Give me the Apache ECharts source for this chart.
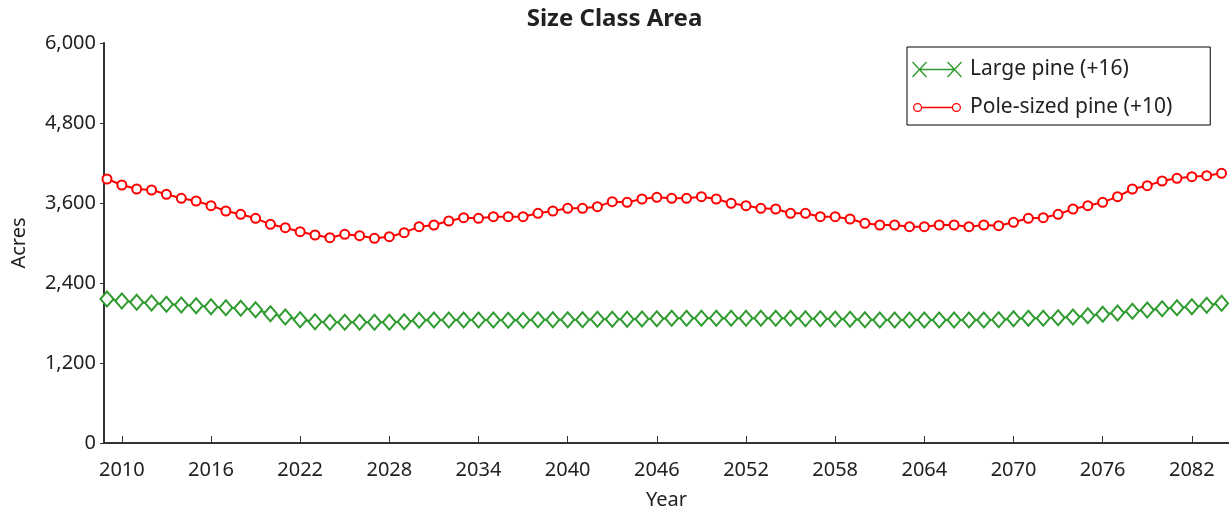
<!DOCTYPE html>
<html>
<head>
<meta charset="utf-8">
<title>Size Class Area</title>
<script src="https://cdn.jsdelivr.net/npm/echarts@6/dist/echarts.min.js"></script>
<style>
  html, body { margin: 0; padding: 0; background: #fff; }
  #main { width: 1229px; height: 516px; }
</style>
</head>
<body>
<div id="main"></div>
<script>
// years 2009..2084, one point per year
var years = [];
for (var y = 2009; y <= 2084; y++) years.push(y);

var yearTicks = [2010, 2016, 2022, 2028, 2034, 2040, 2046, 2052, 2058, 2064, 2070, 2076, 2082];
var acreTicks = [0, 1200, 2400, 3600, 4800, 6000];

var largePine = [
  2160, 2130, 2110, 2100, 2080, 2070, 2060, 2045, 2030, 2020,
  2000, 1940, 1890, 1850, 1820, 1810, 1810, 1810, 1810, 1810,
  1820, 1840, 1845, 1845, 1845, 1845, 1845, 1840, 1840, 1850,
  1850, 1850, 1850, 1855, 1855, 1855, 1860, 1865, 1870, 1870,
  1870, 1870, 1870, 1870, 1870, 1870, 1870, 1865, 1865, 1860,
  1855, 1850, 1845, 1845, 1845, 1845, 1845, 1845, 1845, 1845,
  1850, 1865, 1870, 1870, 1880, 1890, 1910, 1930, 1950, 1975,
  1995, 2015, 2030, 2045, 2065, 2095
];

var polePine = [
  3960, 3870, 3810, 3795, 3730, 3670, 3630, 3560, 3480, 3430,
  3370, 3280, 3230, 3170, 3120, 3080, 3130, 3110, 3070, 3095,
  3155, 3245, 3270, 3330, 3380, 3370, 3395, 3395, 3395, 3445,
  3480, 3520, 3520, 3545, 3620, 3610, 3660, 3685, 3670, 3670,
  3695, 3660, 3595, 3560, 3520, 3510, 3445, 3445, 3395, 3395,
  3360, 3295, 3270, 3270, 3245, 3245, 3270, 3270, 3245, 3270,
  3260, 3310, 3370, 3380, 3430, 3510, 3560, 3610, 3695, 3810,
  3860, 3930, 3970, 3995, 4010, 4045
];

var green = '#2e9b2e';
var red = '#ff0000';
var textColor = '#222';
var font = 'Noto Sans';

function pairs(vals) {
  return years.map(function (yr, i) { return [yr, vals[i]]; });
}

// legend icons (50x16 box): marker - line - marker
var xIcon = 'path://M7,7.3H43V8.7H7Z' +
  'M0,1L1,0L15,15L14,16Z M0,15L14,0L15,1L1,16Z' +
  'M35,1L36,0L50,15L49,16Z M35,15L49,0L50,1L36,16Z';
var oIcon = 'path://M0,0h0.01v0.01h-0.01Z M49.99,15.99h0.01v0.01h-0.01Z' +
  'M1,8A4.6,4.6 0 1,1 10.2,8A4.6,4.6 0 1,1 1,8Z' +
  'M2.3,8A3.3,3.3 0 1,0 8.9,8A3.3,3.3 0 1,0 2.3,8Z' +
  'M10.2,7.3H39.8V8.7H10.2Z' +
  'M39.8,8A4.6,4.6 0 1,1 49,8A4.6,4.6 0 1,1 39.8,8Z' +
  'M41.1,8A3.3,3.3 0 1,0 47.7,8A3.3,3.3 0 1,0 41.1,8Z';

var myChart = echarts.init(document.getElementById('main'));

var option = {
  animation: false,
  backgroundColor: '#fff',
  textStyle: { fontFamily: font, color: textColor },
  title: {
    text: 'Size Class Area',
    left: 'center',
    top: 2,
    textStyle: { fontFamily: font, fontSize: 24, fontWeight: 'bold', color: textColor }
  },
  legend: {
    orient: 'vertical',
    left: 907,
    top: 47,
    padding: [12, 38, 7, 5],
    itemGap: 17,
    itemWidth: 50,
    itemHeight: 16,
    borderColor: '#000',
    borderWidth: 1,
    textStyle: { fontFamily: font, fontSize: 21, color: textColor, padding: [0, 0, 0, 3] },
    data: [
      { name: 'Large pine (+16)', icon: xIcon, itemStyle: { color: green, borderWidth: 0 } },
      { name: 'Pole-sized pine (+10)', icon: oIcon, itemStyle: { color: red, borderWidth: 0 } }
    ]
  },
  grid: { left: 104, right: 0, top: 43, bottom: 73 },
  xAxis: {
    type: 'value',
    min: 2008.8,
    max: 2084.5,
    name: 'Year',
    nameLocation: 'middle',
    nameGap: 47,
    nameTextStyle: { fontFamily: font, fontSize: 20, color: textColor },
    axisLine: { lineStyle: { color: '#333', width: 2 } },
    axisTick: { show: true, inside: true, length: 7, customValues: yearTicks, lineStyle: { color: '#333', width: 1 } },
    axisLabel: {
      customValues: yearTicks,
      margin: 17,
      fontSize: 20,
      color: textColor,
      formatter: function (v) { return String(v); }
    },
    splitLine: { show: false }
  },
  yAxis: {
    type: 'value',
    min: 0,
    max: 6000,
    interval: 1200,
    name: 'Acres',
    nameLocation: 'middle',
    nameGap: 75,
    nameRotate: 90,
    nameTextStyle: { fontFamily: font, fontSize: 20, color: textColor },
    axisLine: { show: true, lineStyle: { color: '#333', width: 2 } },
    axisTick: { show: true, length: 4, lineStyle: { color: '#333', width: 1 } },
    axisLabel: {
      margin: 8,
      fontSize: 20,
      color: textColor,
      formatter: function (v) { return acreTicks.indexOf(v) >= 0 ? v.toLocaleString('en-US') : ''; }
    },
    splitLine: { show: false }
  },
  series: [
    {
      name: 'Large pine (+16)',
      type: 'line',
      data: pairs(largePine),
      symbol: 'emptyDiamond',
      symbolSize: [13, 15],
      lineStyle: { color: green, width: 2 },
      itemStyle: { color: green, borderWidth: 1 },
      z: 2
    },
    {
      name: 'Pole-sized pine (+10)',
      type: 'line',
      data: pairs(polePine),
      symbol: 'emptyCircle',
      symbolSize: 9,
      lineStyle: { color: red, width: 2 },
      itemStyle: { color: red, borderWidth: 1.5 },
      z: 3
    }
  ]
};

myChart.setOption(option);
</script>
</body>
</html>
